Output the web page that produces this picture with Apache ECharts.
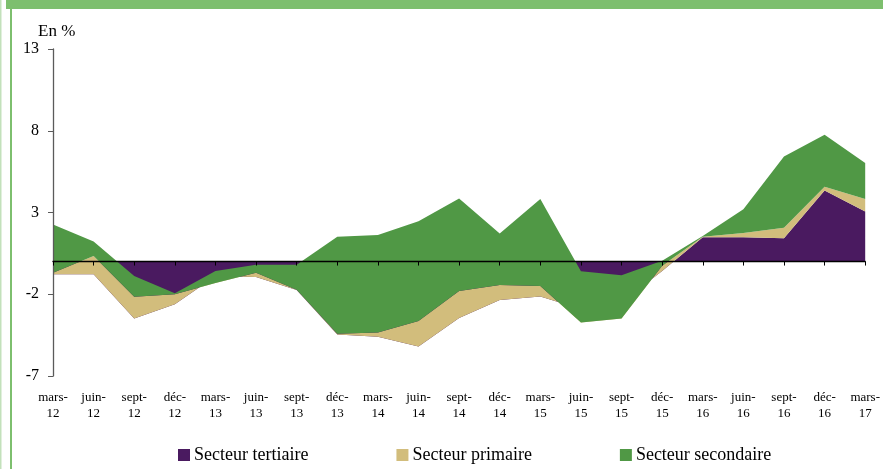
<!DOCTYPE html>
<html>
<head>
<meta charset="utf-8">
<script src="https://cdn.jsdelivr.net/npm/echarts@6/dist/echarts.min.js"></script>
<style>
html,body{margin:0;padding:0;background:#fff;}
#chart{width:883px;height:469px;}
</style>
</head>
<body>
<div id="chart"></div>
<script>
const categories = ['mars-\n12','juin-\n12','sept-\n12','déc-\n12','mars-\n13','juin-\n13','sept-\n13','déc-\n13','mars-\n14','juin-\n14','sept-\n14','déc-\n14','mars-\n15','juin-\n15','sept-\n15','déc-\n15','mars-\n16','juin-\n16','sept-\n16','déc-\n16','mars-\n17'];
const tertiaire  = [-0.78,-0.78,-3.48,-2.61,-0.90,-0.95,-1.74,-4.46,-4.60,-5.19,-3.45,-2.35,-2.14,-2.90,-2.50,-0.58,1.48,1.49,1.43,4.34,3.06];
const primaire   = [0.10,1.12,1.33,0.61,-0.41,0.27,0.02,0.04,0.26,1.56,1.65,0.91,0.65,-0.83,-0.98,0.33,0.04,0.25,0.64,0.24,0.77];
const secondaire = [2.95,0.89,1.27,0.06,0.73,0.48,1.52,5.94,5.97,6.10,5.65,3.15,5.32,3.13,2.64,0.30,0.04,1.46,4.35,3.18,2.20];
const yTicks = [-7,-2,3,8,13];

const FONT = "'Liberation Serif', 'Times New Roman', serif";
const colors = {tertiaire:'#4a1a60', primaire:'#d2bd7c', secondaire:'#509845'};

const chart = echarts.init(document.getElementById('chart'), null, {renderer:'canvas'});

function areaSeries(name, data, color){
  return {
    name: name, type: 'line', data: data,
    stack: 'total', stackStrategy: 'all',
    xAxisIndex: 0, yAxisIndex: 0,
    symbol: 'none', showSymbol: false,
    lineStyle: {width: 0, color: color},
    itemStyle: {color: color},
    areaStyle: {color: color, opacity: 1},
    silent: true
  };
}

chart.setOption({
  animation: false,
  backgroundColor: '#ffffff',
  grid: {left: 53, right: 15, top: 49, bottom: 93, containLabel: false},
  graphic: [
    {type:'rect', shape:{x:6, y:0, width:877, height:9}, style:{fill:'#7dbf6e'}},
    {type:'rect', shape:{x:10, y:9, width:2, height:460}, style:{fill:'#7dbf6e'}},
    {type:'rect', shape:{x:0, y:0, width:1.5, height:469}, style:{fill:'#c3e1bb'}},
    {type:'text', x:38, y:32, style:{text:'En %', font:"17px " + FONT, fill:'#000', verticalAlign:'middle'}}
  ],
  legend: {
    left: 178, top: 446, padding: 0,
    icon: 'rect', itemWidth: 12, itemHeight: 12, itemGap: 88,
    textStyle: {fontFamily: FONT, fontSize: 18, color: '#000', padding:[0,0,0,-1]},
    data: ['Secteur tertiaire','Secteur primaire','Secteur secondaire']
  },
  xAxis: [
    {
      type: 'category', data: categories, boundaryGap: false, position: 'bottom',
      axisLine: {show: false, onZero: false},
      axisTick: {show: false},
      axisLabel: {interval: 0, fontFamily: FONT, fontSize: 13, color: '#000', lineHeight: 16, margin: 14},
      splitLine: {show: false}
    },
    {
      type: 'category', data: categories, boundaryGap: false, position: 'top',
      z: 10,
      axisLine: {show: true, onZero: true, lineStyle: {color: '#000', width: 1.3}},
      axisTick: {show: true, inside: true, length: 4, interval: 0, lineStyle: {color: '#000'}},
      axisLabel: {show: false},
      splitLine: {show: false}
    }
  ],
  yAxis: [
    {
      type: 'value', min: yTicks[0], max: yTicks[yTicks.length-1], interval: 5,
      z: 10,
      axisLine: {show: true, lineStyle: {color: '#5a5a5a', width: 1.3}},
      axisTick: {show: true, length: 5, lineStyle: {color: '#5a5a5a'}},
      axisLabel: {fontFamily: FONT, fontSize: 16, color: '#000', margin: 14},
      splitLine: {show: false}
    }
  ],
  series: [
    areaSeries('Secteur tertiaire', tertiaire, colors.tertiaire),
    areaSeries('Secteur primaire', primaire, colors.primaire),
    areaSeries('Secteur secondaire', secondaire, colors.secondaire)
  ]
});
</script>
</body>
</html>
